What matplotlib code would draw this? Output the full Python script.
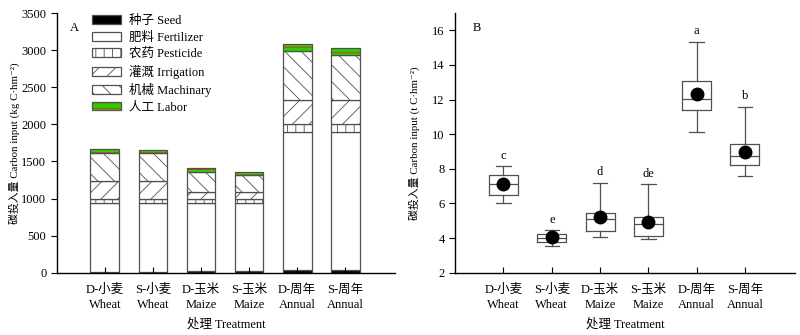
import matplotlib as mpl
mpl.use('Agg')
import matplotlib.pyplot as plt
from matplotlib.legend_handler import HandlerTuple

plt.rcParams['font.family'] = ['Liberation Serif', 'Noto Sans CJK SC', 'DejaVu Serif']
plt.rcParams['font.size'] = 9
plt.rcParams['hatch.linewidth'] = 0.6

# ---- data ----
cats = ['D-小麦\nWheat', 'S-小麦\nWheat', 'D-玉米\nMaize', 'S-玉米\nMaize', 'D-周年\nAnnual', 'S-周年\nAnnual']

seed = [15, 15, 22, 22, 37, 37]
fertilizer = [931, 931, 924, 924, 1863, 1863]
pesticide = [54, 54, 54, 54, 108, 108]
irrigation = [235, 235, 86, 86, 321, 321]
machinery = [378, 375, 275, 230, 653, 605]
labor = [54, 50, 50, 45, 104, 95]

whislo = [6.0, 3.56, 4.08, 3.96, 10.1, 7.58]
q1 = [6.5, 3.77, 4.39, 4.12, 11.38, 8.23]
med = [7.15, 4.0, 5.12, 4.79, 12.03, 8.73]
q3 = [7.67, 4.25, 5.42, 5.23, 13.07, 9.44]
whishi = [8.15, 4.45, 7.21, 7.12, 15.35, 11.6]
mean = [7.1, 4.05, 5.2, 4.95, 12.3, 9.0]
letters = ['c', 'e', 'd', 'de', 'a', 'b']

x = list(range(1, len(cats) + 1))
ec = '#505050'
w = 0.6

fig = plt.figure(figsize=(8, 3.35), dpi=100)

# ---- panel A ----
ax1 = fig.add_axes([0.071, 0.186, 0.423, 0.775])
layers = [
    (seed, dict(facecolor='black', hatch=None), '种子 Seed'),
    (fertilizer, dict(facecolor='white', hatch=None), '肥料 Fertilizer'),
    (pesticide, dict(facecolor='white', hatch='||'), '农药 Pesticide'),
    (irrigation, dict(facecolor='white', hatch='//'), '灌溉 Irrigation'),
    (machinery, dict(facecolor='white', hatch='\\\\'), '机械 Machinary'),
]
bottom = [0] * len(cats)
handles = []
labels = []
for vals, style, lab in layers:
    b = ax1.bar(x, vals, w, bottom=bottom, edgecolor=ec, linewidth=0.9, **style)
    handles.append(b[0])
    labels.append(lab)
    bottom = [bb + v for bb, v in zip(bottom, vals)]

# labor: green with red stripes, outline drawn on top
lb = ax1.bar(x, labor, w, bottom=bottom, facecolor='#33cc00', edgecolor='#d03030',
             hatch='---', linewidth=0)
lo = ax1.bar(x, labor, w, bottom=bottom, fill=False, edgecolor=ec, linewidth=0.9)
handles.append((lb[0], lo[0]))
labels.append('人工 Labor')

ax1.set_xlim(0, 7.04)
ax1.set_ylim(0, 3500)
ax1.set_yticks(range(0, 3501, 500))
ax1.set_xticks(x)
ax1.set_xticklabels(cats, linespacing=1.35)
ax1.tick_params(axis='x', direction='in', length=4, width=0.8, pad=8)
ax1.tick_params(axis='y', direction='out', length=4, width=0.8)
for s in ['top', 'right']:
    ax1.spines[s].set_visible(False)
for s in ['left', 'bottom']:
    ax1.spines[s].set_linewidth(1.0)
ax1.set_ylabel('碳投入量 Carbon input (kg C·hm⁻²)', fontsize=7.8)
ax1.yaxis.set_label_coords(-0.109, 0.5)
ax1.set_xlabel('处理 Treatment', labelpad=5)
ax1.text(0.04, 0.965, 'A', transform=ax1.transAxes, ha='left', va='top')
leg = ax1.legend(handles, labels, loc='upper left', bbox_to_anchor=(0.071, 1.035),
                 frameon=False, handlelength=2.3, handleheight=0.7, labelspacing=0.35,
                 handletextpad=0.65,
                 handler_map={tuple: HandlerTuple(ndivide=1)})

# ---- panel B ----
ax2 = fig.add_axes([0.569, 0.186, 0.425, 0.775])
stats = []
for i in range(len(cats)):
    stats.append(dict(whislo=whislo[i], q1=q1[i], med=med[i], q3=q3[i],
                      whishi=whishi[i], mean=mean[i], fliers=[]))
ax2.bxp(stats, positions=x, widths=w, showmeans=True, showfliers=False,
        boxprops=dict(color=ec, linewidth=0.9),
        whiskerprops=dict(color=ec, linewidth=0.9),
        capprops=dict(color=ec, linewidth=0.9),
        medianprops=dict(color=ec, linewidth=0.9),
        meanprops=dict(marker='o', markerfacecolor='black', markeredgecolor='black',
                       markersize=9),
        capwidths=0.3)
for xi, top, lt in zip(x, whishi, letters):
    ax2.text(xi, top + 0.25, lt, ha='center', va='bottom')

ax2.set_xlim(0, 7.04)
ax2.set_ylim(2, 17)
ax2.set_yticks(range(2, 17, 2))
ax2.set_xticks(x)
ax2.set_xticklabels(cats, linespacing=1.35)
ax2.tick_params(axis='x', direction='in', length=4, width=0.8, pad=8)
ax2.tick_params(axis='y', direction='out', length=4, width=0.8)
for s in ['top', 'right']:
    ax2.spines[s].set_visible(False)
for s in ['left', 'bottom']:
    ax2.spines[s].set_linewidth(1.0)
ax2.set_ylabel('碳投入量 Carbon input (t C·hm⁻²)', fontsize=7.8)
ax2.yaxis.set_label_coords(-0.103, 0.5)
ax2.set_xlabel('处理 Treatment', labelpad=5)
ax2.text(0.05, 0.965, 'B', transform=ax2.transAxes, ha='left', va='top')

fig.savefig('out.png', dpi=100)
